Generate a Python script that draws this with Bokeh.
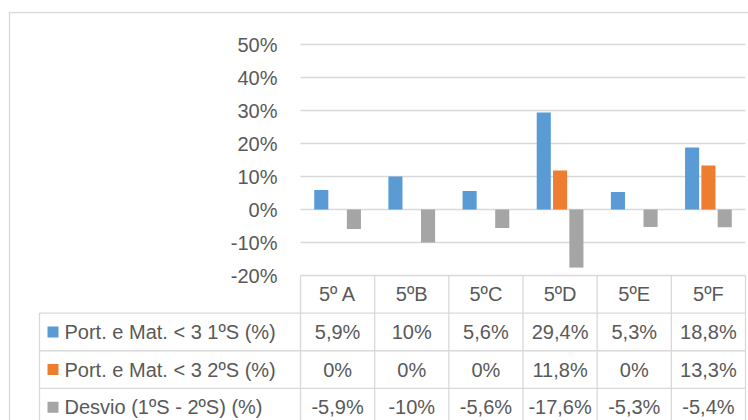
from bokeh.plotting import figure
from bokeh.models import Range1d, Span
from bokeh.core.properties import value
from bokeh.embed import file_html
from bokeh.resources import INLINE

# ---- data ----
categories = ["5º A", "5ºB", "5ºC", "5ºD", "5ºE", "5ºF"]
series_names = ["Port. e Mat. < 3 1ºS (%)", "Port. e Mat. < 3 2ºS (%)", "Desvio (1ºS - 2ºS) (%)"]
s1 = [5.9, 10, 5.6, 29.4, 5.3, 18.8]
s2 = [0, 0, 0, 11.8, 0, 13.3]
s3 = [-5.9, -10, -5.6, -17.6, -5.3, -5.4]
y_ticks = [-20, -10, 0, 10, 20, 30, 40, 50]
colors = ["#5b9bd5", "#ed7d31", "#a5a5a5"]

series = [s1, s2, s3]
xs = list(range(1, len(categories) + 1))

def fmt(v):
    return f"{v:g}".replace(".", ",") + "%"

# ---- layout constants (pixels) ----
px_per_unit = 445 / 6          # horizontal pixels per category
px_per_pct = 3.3               # vertical pixels per percent
x_min = 0.5 - 292 / px_per_unit
x_max = 6.5 + 3 / px_per_unit
y_max = 50 + 33 / px_per_pct
y_min = -(211 / px_per_pct)
x_leg = 0.5 - 261 / px_per_unit
row_h = 11.4
y_tab = min(y_ticks)

FONT = value("Liberation Sans")
TXT = "#595959"
LINE = "#d9d9d9"
FS = "20px"

p = figure(width=748, height=420, output_backend="svg", toolbar_location=None,
           x_range=Range1d(x_min, x_max), y_range=Range1d(y_min, y_max),
           x_axis_location=None, y_axis_location=None)
p.min_border_left = 8
p.min_border_top = 11
p.min_border_right = 0
p.min_border_bottom = 0
p.xgrid.visible = False
p.ygrid.visible = False
p.outline_line_color = None
p.background_fill_color = "white"
p.border_fill_color = "white"

# chart border (top and left only; right/bottom are cropped in the reference)
p.add_layout(Span(location=x_min + 1 / px_per_unit, dimension="height", line_color=LINE, line_width=1.5))
p.add_layout(Span(location=y_max - 1 / px_per_pct, dimension="width", line_color=LINE, line_width=1.5))

# gridlines
p.segment(x0=[0.5] * len(y_ticks), x1=[6.5] * len(y_ticks), y0=y_ticks, y1=y_ticks,
          line_color=LINE, line_width=1.3)

# tick labels
p.text(x=[0.5] * len(y_ticks), y=y_ticks, text=[f"{t}%" for t in y_ticks],
       x_offset=-23, text_align="right", text_baseline="middle",
       text_font=FONT, text_font_size=FS, text_color=TXT)

# bars
offsets = [-0.22, 0.0, 0.22]
for vals, c, off in zip(series, colors, offsets):
    p.vbar(x=[x + off for x in xs], top=vals, bottom=0, width=0.19,
           fill_color=c, line_color=None)

# table lines
n_rows = len(series)
hy = [y_tab - row_h * k for k in range(1, n_rows + 1)]
p.segment(x0=[x_leg] * len(hy), x1=[6.5] * len(hy), y0=hy, y1=hy,
          line_color=LINE, line_width=1.3)
vx = [i + 0.5 for i in range(0, len(categories) + 1)]
p.segment(x0=vx, x1=vx, y0=[y_tab] * len(vx), y1=[y_min - 5] * len(vx),
          line_color=LINE, line_width=1.3)
p.segment(x0=[x_leg], x1=[x_leg], y0=[y_tab - row_h], y1=[y_min - 5],
          line_color=LINE, line_width=1.3)

# header
p.text(x=xs, y=[y_tab - row_h / 2] * len(xs), text=categories,
       text_align="center", text_baseline="middle",
       text_font=FONT, text_font_size=FS, text_color=TXT)

# rows
for k, (name, vals, c) in enumerate(zip(series_names, series, colors)):
    yc = y_tab - row_h * (k + 1) - row_h / 2
    p.scatter(x=[x_leg + 13.5 / px_per_unit], y=[yc], marker="square", size=11,
              fill_color=c, line_color=None)
    p.text(x=[x_leg], y=[yc], text=[name], x_offset=25,
           text_align="left", text_baseline="middle",
           text_font=FONT, text_font_size=FS, text_color=TXT)
    p.text(x=xs, y=[yc] * len(xs), text=[fmt(v) for v in vals],
           text_align="center", text_baseline="middle",
           text_font=FONT, text_font_size=FS, text_color=TXT)

open("out.html", "w").write(file_html(p, INLINE))
